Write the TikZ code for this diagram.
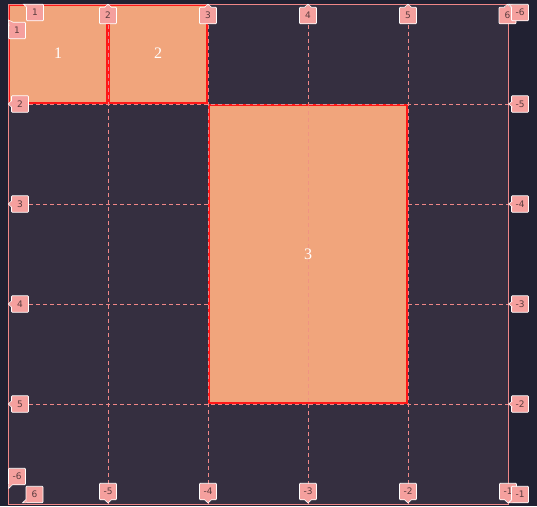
\documentclass[tikz,border=0pt]{standalone}
\usepackage{fontspec}
\setmainfont{Liberation Serif}
\newfontfamily\glfont{DejaVu Sans}
\definecolor{bgout}{RGB}{33,33,50}
\definecolor{gridbg}{RGB}{53,47,64}
\definecolor{itemfill}{RGB}{241,165,124}
\definecolor{itemred}{RGB}{255,24,24}
\definecolor{gline}{RGB}{240,135,135}
\definecolor{lblpink}{RGB}{245,160,158}
\definecolor{lbltext}{RGB}{90,60,62}
\tikzset{
  lbl/.style={draw=white, line width=0.7pt, fill=lblpink, text=lbltext,
    font=\glfont\fontsize{9}{10}\selectfont, minimum width=17pt, minimum height=16.5pt,
    inner sep=0pt, rounded corners=0.8pt},
  ptrfill/.style={fill=lblpink},
  ptredge/.style={draw=white, line width=0.6pt},
  gdash/.style={draw=gline, line width=0.9pt, dash pattern=on 4pt off 3pt},
  gfaint/.style={gdash, draw opacity=0.55},
  gouter/.style={draw=gline, line width=1pt},
  itembox/.style={fill=itemfill},
  itemedge/.style={draw=itemred, line width=2pt},
  cellnum/.style={text=white, font=\fontsize{16}{18}\selectfont, inner sep=0pt}
}
% label helpers: name, x/y, text
\newcommand{\glTop}[3]{%
  \node[lbl] (#1) at (#2,15.5) {#3};
  \fill[ptrfill] (#2-3,7.8) -- (#2,4.2) -- (#2+3,7.8) -- cycle;
  \draw[ptredge] (#2-3.2,7) -- (#2,4.2) -- (#2+3.2,7);}
\newcommand{\glBot}[3]{%
  \node[lbl] (#1) at (#2,491.5) {#3};
  \fill[ptrfill] (#2-3,499.2) -- (#2,503) -- (#2+3,499.2) -- cycle;
  \draw[ptredge] (#2-3.2,500) -- (#2,503) -- (#2+3.2,500);}
\newcommand{\glLeft}[3]{%
  \node[lbl] (#1) at (20,#2) {#3};
  \fill[ptrfill] (11.8,#2-3) -- (8.3,#2) -- (11.8,#2+3) -- cycle;
  \draw[ptredge] (11.5,#2-3.2) -- (8.3,#2) -- (11.5,#2+3.2);}
\newcommand{\glRight}[3]{%
  \node[lbl] (#1) at (520,#2) {#3};
  \fill[ptrfill] (512.2,#2-3) -- (508.6,#2) -- (512.2,#2+3) -- cycle;
  \draw[ptredge] (512.5,#2-3.2) -- (508.6,#2) -- (512.5,#2+3.2);}
\begin{document}
\begin{tikzpicture}[x=1pt,y=-1pt]
\useasboundingbox (0,0) rectangle (537,506);
% backgrounds
\fill[bgout] (0,0) rectangle (537,506);
\fill[gridbg] (8,4) rectangle (508,504);
% grid items
\fill[itembox] (8,4) rectangle (108,104);
\fill[itembox] (108,4) rectangle (208,104);
\fill[itembox] (208,104) rectangle (408,404);
\draw[itemedge] (9,5) rectangle (107,103);
\draw[itemedge] (109,5) rectangle (206.5,103);
\draw[itemedge] (209,105) rectangle (406.5,402.5);
% grid lines
\foreach \gx in {108,208,408} {\draw[gdash] (\gx,4) -- (\gx,504);}
\draw[gdash] (308,4) -- (308,104);
\draw[gfaint] (308,104) -- (308,404);
\draw[gdash] (308,404) -- (308,504);
\foreach \gy in {104,404} {\draw[gdash] (8,\gy) -- (508,\gy);}
\foreach \gy in {204,304} {\draw[gdash] (8,\gy) -- (208,\gy); \draw[gdash] (408,\gy) -- (508,\gy);}
\draw[gouter] (8,4) rectangle (508,504);
% cell numbers
\node[cellnum] (n1) at (58,53) {1};
\node[cellnum] (n2) at (158,53) {2};
\node[cellnum] (n3) at (308,254) {3};
% column labels (top)
\node[lbl] (ct1) at (35,12.5) {1};
\fill[ptrfill] (27.4,4.2) -- (23.5,4.2) -- (27.4,8) -- cycle;
\draw[ptredge] (27,4.2) -- (23.5,4.2) -- (27,7.5);
\glTop{ct2}{108}{2}
\glTop{ct3}{208}{3}
\glTop{ct4}{308}{4}
\glTop{ct5}{408}{5}
\glTop{ct6}{507.5}{6}
% column labels (bottom)
\node[lbl] (cb6) at (17,476.5) {-6};
\fill[ptrfill] (8.6,484) -- (8.6,488.5) -- (12.5,484) -- cycle;
\draw[ptredge] (8.6,484.5) -- (8.6,488.5) -- (12.5,484.8);
\glBot{cb5}{108}{-5}
\glBot{cb4}{208}{-4}
\glBot{cb3}{308}{-3}
\glBot{cb2}{408}{-2}
\glBot{cb1}{508}{-1}
% row labels (left)
\node[lbl] (rl1) at (17,30.5) {1};
\fill[ptrfill] (9.4,26) -- (8.4,20) -- (13,22.6) -- cycle;
\draw[ptredge] (9,26) -- (8.4,20) -- (13,22.2);
\glLeft{rl2}{104}{2}
\glLeft{rl3}{204}{3}
\glLeft{rl4}{304}{4}
\glLeft{rl5}{404}{5}
\node[lbl] (rl6) at (34.5,494.5) {6};
\fill[ptrfill] (26.4,502.8) -- (22.5,502.8) -- (26.4,499) -- cycle;
\draw[ptredge] (26,502.8) -- (22.5,502.8) -- (26,499.5);
% row labels (right)
\node[lbl] (rr6) at (520,12.5) {-6};
\fill[ptrfill] (512.4,4.2) -- (508.6,4.2) -- (512.4,8) -- cycle;
\draw[ptredge] (512,4.2) -- (508.6,4.2) -- (512,7.5);
\glRight{rr5}{104}{-5}
\glRight{rr4}{204}{-4}
\glRight{rr3}{304}{-3}
\glRight{rr2}{404}{-2}
\node[lbl] (rr1) at (520,494.5) {-1};
\fill[ptrfill] (512.4,502.8) -- (508.6,502.8) -- (512.4,499) -- cycle;
\draw[ptredge] (512,502.8) -- (508.6,502.8) -- (512,499.5);
\end{tikzpicture}
\end{document}
